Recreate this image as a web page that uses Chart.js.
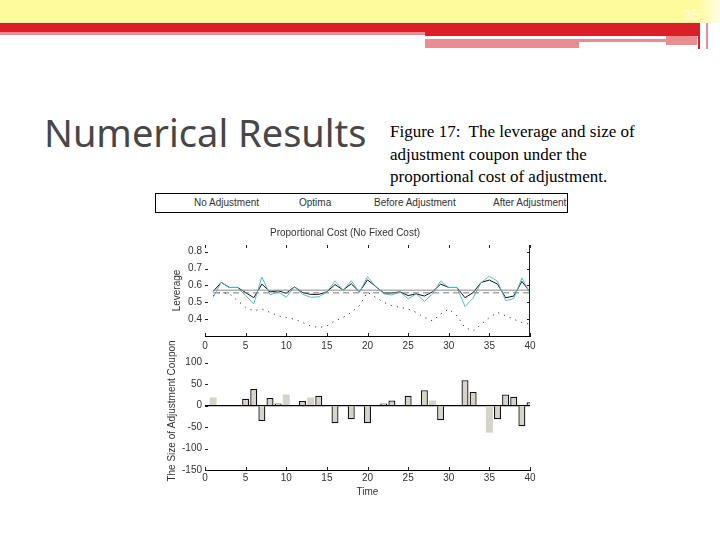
<!DOCTYPE html>
<html>
<head>
<meta charset="utf-8">
<script src="https://cdn.jsdelivr.net/npm/chart.js@4.4.0/dist/chart.umd.min.js"></script>
<style>
  body { margin: 0; width: 720px; height: 540px; background: #fff; position: relative; overflow: hidden; font-family: "Liberation Sans", Arial, sans-serif; }
  .band { position: absolute; }
  #title { position: absolute; left: 44px; top: 112px; font-family: "Noto Sans", sans-serif; font-size: 38px; line-height: 40px; color: #474747; white-space: nowrap; }
  #caption { position: absolute; left: 390px; top: 121px; font-family: "Liberation Serif", serif; font-size: 17px; line-height: 22.5px; color: #000; white-space: nowrap; }
  #legend { position: absolute; left: 155px; top: 193px; width: 411px; height: 18px; border: 1px solid #000; font-size: 10px; color: #333; }
  #legend span { position: absolute; top: 3px; white-space: nowrap; }
  #page { position: absolute; left: 684px; top: 7px; font-size: 14px; color: #fffbe6; }
  canvas { position: absolute; }
</style>
</head>
<body>
<!-- slide header bands -->
<div class="band" style="left:0;top:0;width:720px;height:23px;background:#fefb9c"></div>
<div class="band" style="left:697px;top:0;width:23px;height:23px;background:linear-gradient(to right,#fefb9c,#fffde8)"></div>
<div class="band" style="left:0;top:23px;width:700px;height:9px;background:#d92029"></div>
<div class="band" style="left:0;top:32px;width:425px;height:3px;background:#e88e92"></div>
<div class="band" style="left:425px;top:32px;width:275px;height:4px;background:#d92029"></div>
<div class="band" style="left:425px;top:39px;width:241px;height:3px;background:#e88e92"></div>
<div class="band" style="left:425px;top:42px;width:154px;height:6px;background:#e88e92"></div>
<div class="band" style="left:666px;top:36px;width:31px;height:9px;background:#e88e92"></div>
<div class="band" style="left:698px;top:23px;width:2px;height:26px;background:#d92029"></div>
<div class="band" style="left:706px;top:23px;width:2px;height:26px;background:#e88e92"></div>
<div id="page">35</div>

<div id="title">Numerical Results</div>
<div id="caption">Figure 17:&nbsp; The leverage and size of<br>adjustment coupon under the<br>proportional cost of adjustment.</div>

<div id="legend">
  <span style="left:38px">No Adjustment</span>
  <span style="left:143px">Optima</span>
  <span style="left:218px">Before Adjustment</span>
  <span style="left:337px">After Adjustment</span>
</div>

<canvas id="levChart" width="385" height="134" style="left:160px;top:222px"></canvas>
<canvas id="couponChart" width="385" height="168" style="left:160px;top:330px"></canvas>

<script>
// time axis
const timeSteps = [0, 1, 2, 3, 4, 5, 6, 7, 8, 9, 10, 11, 12, 13, 14, 15, 16, 17, 18, 19, 20,
  21, 22, 23, 24, 25, 26, 27, 28, 29, 30, 31, 32, 33, 34, 35, 36, 37, 38, 39, 40];

// leverage, top panel
const noAdjustment = [null, 0.54, 0.56, 0.55, 0.51, 0.47, 0.45, 0.46, 0.44, 0.42, 0.41,
  0.40, 0.38, 0.36, 0.35, 0.36, 0.39, 0.41, 0.44, 0.48, 0.56,
  0.53, 0.50, 0.48, 0.47, 0.46, 0.44, 0.41, 0.39, 0.43, 0.46,
  0.42, 0.35, 0.33, 0.37, 0.41, 0.44, 0.42, 0.40, 0.38, 0.37];
const beforeAdjustment = [null, 0.53, 0.618, 0.588, 0.588, 0.54, 0.49, 0.65, 0.545, 0.562, 0.53,
  0.592, 0.548, 0.53, 0.532, 0.562, 0.625, 0.573, 0.628, 0.56, 0.652,
  0.594, 0.55, 0.543, 0.562, 0.52, 0.55, 0.505, 0.55, 0.625, 0.588,
  0.588, 0.475, 0.525, 0.618, 0.655, 0.625, 0.51, 0.522, 0.645, 0.555];
const afterAdjustment = [null, 0.564, 0.618, 0.588, 0.588, 0.558, 0.527, 0.608, 0.562, 0.568, 0.554,
  0.592, 0.558, 0.547, 0.547, 0.562, 0.605, 0.573, 0.61, 0.562, 0.633,
  0.594, 0.555, 0.555, 0.562, 0.54, 0.55, 0.537, 0.562, 0.608, 0.588,
  0.588, 0.527, 0.558, 0.618, 0.632, 0.608, 0.527, 0.537, 0.624, 0.562];
const optimaX = [1, 40];
const optimaY = [0.572, 0.572];
const targetY = [0.556, 0.556];
const leverageTicks = [0.4, 0.5, 0.6, 0.7, 0.8];

// adjustment coupon, bottom panel (null = no adjustment that period)
const couponSize = [null, 19, null, null, null, 16, 39, -36, 18, 5, 26,
  null, 11, 19, 23, null, -41, null, -32, 2, -41,
  null, 5, 12, null, 23, null, 36, 12, -34, null,
  null, 59, 32, null, -63, -32, 26, 21, -48, 8];
const plainBars = [1, 10, 13, 28, 35];
const couponTicks = [-150, -100, -50, 0, 50, 100];

const FONT = { family: '"Liberation Sans", Arial, sans-serif', size: 10, weight: 'normal' };
const TXT = '#333';

// MATLAB style ticks pointing into the plot box
const innerTicks = {
  id: 'innerTicks',
  afterDatasetsDraw(chart, args, opts) {
    const { ctx, chartArea: a, scales } = chart;
    const len = opts.len || 3;
    ctx.save();
    ctx.strokeStyle = '#222';
    ctx.lineWidth = 1;
    ctx.beginPath();
    scales.x.ticks.forEach(t => {
      const px = Math.round(scales.x.getPixelForValue(t.value)) + 0.5;
      ctx.moveTo(px, a.bottom); ctx.lineTo(px, a.bottom - len);
      if (opts.top) { ctx.moveTo(px, a.top); ctx.lineTo(px, a.top + len); }
    });
    scales.y.ticks.forEach(t => {
      const py = Math.round(scales.y.getPixelForValue(t.value)) + 0.5;
      ctx.moveTo(a.left, py); ctx.lineTo(a.left + len, py);
      if (opts.right) { ctx.moveTo(a.right, py); ctx.lineTo(a.right - len, py); }
    });
    if (opts.right) {
      const rx = Math.round(a.right) - 0.5;
      ctx.moveTo(rx, a.top); ctx.lineTo(rx, a.bottom);
    }
    ctx.stroke();
    ctx.restore();
  }
};

function xy(xs, ys) {
  return xs.map((x, i) => ({ x: x, y: ys[i] }));
}

window.addEventListener('load', function () {
  Chart.defaults.font = FONT;
  Chart.defaults.color = TXT;

  new Chart(document.getElementById('levChart'), {
    type: 'line',
    data: {
      datasets: [
        { label: 'No Adjustment', data: xy(timeSteps, noAdjustment), borderColor: '#333', borderWidth: 1, borderDash: [1.2, 5] },
        { label: 'Optima', data: xy(optimaX, optimaY), borderColor: '#8a8a8a', borderWidth: 1 },
        { label: 'Optima target', data: xy(optimaX, targetY), borderColor: '#7a7a7a', borderWidth: 1, borderDash: [6, 4] },
        { label: 'Before Adjustment', data: xy(timeSteps, beforeAdjustment), borderColor: '#55bfc0', borderWidth: 1 },
        { label: 'After Adjustment', data: xy(timeSteps, afterAdjustment), borderColor: '#111', borderWidth: 1 }
      ]
    },
    options: {
      responsive: false,
      animation: false,
      devicePixelRatio: 1,
      layout: { padding: { left: 0, right: 15, top: 0, bottom: 0 } },
      elements: { point: { radius: 0 }, line: { tension: 0 } },
      plugins: {
        legend: { display: false },
        tooltip: { enabled: false },
        title: { display: true, text: 'Proportional Cost (No Fixed Cost)', font: FONT, color: TXT, padding: { top: 5, bottom: 6 } },
        innerTicks: { len: 3, top: true, right: true }
      },
      scales: {
        x: {
          type: 'linear', min: 0, max: 40,
          ticks: { stepSize: 5, padding: 4, maxRotation: 0 },
          grid: { display: false, drawTicks: false },
          border: { color: '#000', width: 1 }
        },
        y: {
          min: 0.3, max: 0.84,
          afterBuildTicks: s => { s.ticks = leverageTicks.map(v => ({ value: v })); },
          afterFit: s => { s.width = 45; },
          ticks: { padding: 3, callback: v => v.toFixed(1) },
          grid: { display: false, drawTicks: false },
          border: { display: false },
          title: { display: true, text: 'Leverage', padding: { top: 11, bottom: 0 } }
        }
      }
    },
    plugins: [innerTicks]
  });

  new Chart(document.getElementById('couponChart'), {
    type: 'bar',
    data: {
      datasets: [{
        label: 'Adjustment Coupon',
        data: xy(timeSteps, couponSize),
        backgroundColor: '#d6d3cc',
        borderColor: '#111',
        borderWidth: ctx => plainBars.includes(timeSteps[ctx.dataIndex]) ? 0 : 1.3,
        barPercentage: 0.86,
        categoryPercentage: 1
      }]
    },
    options: {
      responsive: false,
      animation: false,
      devicePixelRatio: 1,
      layout: { padding: { left: 0, right: 15, top: 22, bottom: 0 } },
      plugins: {
        legend: { display: false },
        tooltip: { enabled: false },
        innerTicks: { len: 3 }
      },
      scales: {
        x: {
          type: 'linear', min: 0, max: 40, offset: false,
          ticks: { stepSize: 5, padding: 2, maxRotation: 0 },
          grid: { display: false, drawTicks: false },
          border: { color: '#000', width: 1 },
          title: { display: true, text: 'Time', padding: { top: 0, bottom: 0 } }
        },
        y: {
          min: -150, max: 125,
          afterBuildTicks: s => { s.ticks = couponTicks.map(v => ({ value: v })); },
          afterFit: s => { s.width = 45; },
          ticks: { padding: 3 },
          grid: {
            drawTicks: false,
            color: ctx => (ctx.tick && ctx.tick.value === 0) ? '#000' : 'rgba(0,0,0,0)',
            lineWidth: 1.2
          },
          border: { display: false },
          title: { display: true, text: 'The Size of Adjustment Coupon', padding: { top: 6, bottom: 0 } }
        }
      }
    },
    plugins: [innerTicks]
  });
});
</script>
</body>
</html>
